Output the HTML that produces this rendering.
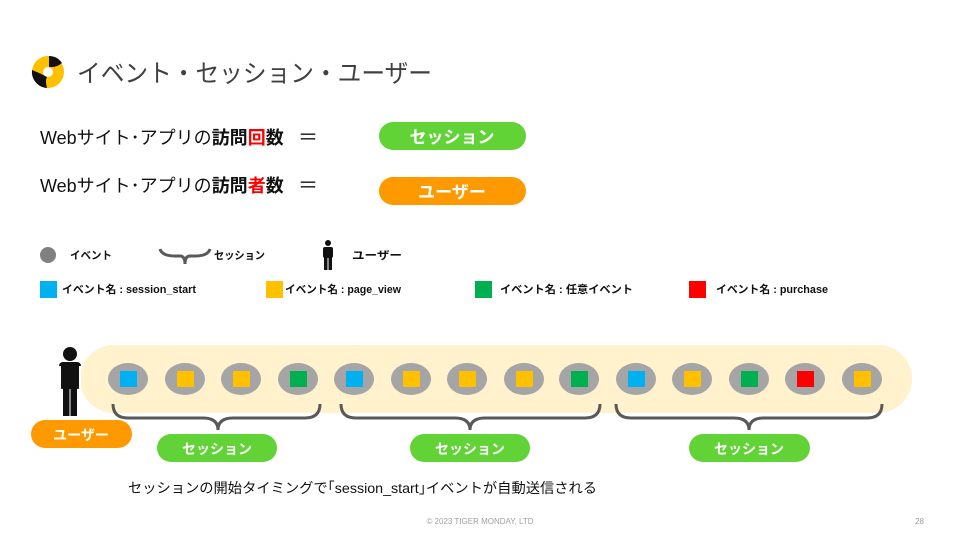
<!DOCTYPE html>
<html><head><meta charset="utf-8"><style>
body{margin:0;width:960px;height:540px;background:#fff;overflow:hidden;font-family:"Liberation Sans","Noto Sans CJK JP",sans-serif;}
</style></head><body>
<svg width="960" height="540" xmlns="http://www.w3.org/2000/svg" style="position:absolute;left:0;top:0;font-family:'Liberation Sans','Noto Sans CJK JP',sans-serif">
<!-- logo -->
<circle cx="48" cy="72" r="16" fill="#ffc000"/>
<path d="M49 56 A16 16 0 0 1 62 63 Q56 68 49 67 Z" fill="#111"/>
<path d="M32 70 A16 16 0 0 0 47 88 Q45 80 47 77 Q40 73 32 70 Z" fill="#111"/>
<circle cx="48" cy="72" r="5" fill="#fff"/>
<text x="77" y="82" font-size="25" fill="#404040" textLength="355" lengthAdjust="spacingAndGlyphs">イベント・セッション・ユーザー</text>

<text x="40" y="144" font-size="18" fill="#111">Webサイト･アプリの<tspan font-weight="bold">訪問</tspan><tspan font-weight="bold" fill="#ff0000">回</tspan><tspan font-weight="bold">数</tspan></text>
<text x="298" y="144" font-size="20" fill="#111">＝</text>
<rect x="379" y="122" width="147" height="28" rx="14" fill="#62d337"/>
<text x="452" y="143" font-size="17" font-weight="bold" fill="#fff" text-anchor="middle">セッション</text>

<text x="40" y="192" font-size="18" fill="#111">Webサイト･アプリの<tspan font-weight="bold">訪問</tspan><tspan font-weight="bold" fill="#ff0000">者</tspan><tspan font-weight="bold">数</tspan></text>
<text x="298" y="192" font-size="20" fill="#111">＝</text>
<rect x="379" y="177" width="147" height="28" rx="14" fill="#ff9900"/>
<text x="452" y="198" font-size="17" font-weight="bold" fill="#fff" text-anchor="middle">ユーザー</text>

<!-- legend -->
<circle cx="48" cy="255" r="8" fill="#808080"/>
<text x="70" y="259" font-size="11" font-weight="bold" fill="#111" textLength="42" lengthAdjust="spacingAndGlyphs">イベント</text>
<path d="M160 249 Q162 256 175 256 L180 256 Q185 256 185 264 Q185 256 190 256 L195 256 Q208 256 210 249" fill="none" stroke="#595959" stroke-width="3"/>
<text x="214" y="259" font-size="11" font-weight="bold" fill="#111" textLength="51" lengthAdjust="spacingAndGlyphs">セッション</text>
<g fill="#111">
<circle cx="328" cy="243" r="3"/>
<rect x="323" y="247" width="10" height="11" rx="2"/>
<rect x="324" y="256" width="3.5" height="14"/><rect x="328.5" y="256" width="3.5" height="14"/>
</g>
<text x="352" y="259" font-size="11" font-weight="bold" fill="#111" textLength="50" lengthAdjust="spacingAndGlyphs">ユーザー</text>

<rect x="40" y="281" width="17" height="17" fill="#00b0f0"/>
<text x="62" y="293" font-size="11" font-weight="bold" fill="#111" textLength="134" lengthAdjust="spacingAndGlyphs">イベント名 : session_start</text>
<rect x="266" y="281" width="17" height="17" fill="#ffc000"/>
<text x="285" y="293" font-size="11" font-weight="bold" fill="#111" textLength="116" lengthAdjust="spacingAndGlyphs">イベント名 : page_view</text>
<rect x="475" y="281" width="17" height="17" fill="#00b050"/>
<text x="500" y="293" font-size="11" font-weight="bold" fill="#111" textLength="133" lengthAdjust="spacingAndGlyphs">イベント名 : 任意イベント</text>
<rect x="689" y="281" width="17" height="17" fill="#ff0000"/>
<text x="716" y="293" font-size="11" font-weight="bold" fill="#111" textLength="112" lengthAdjust="spacingAndGlyphs">イベント名 : purchase</text>

<!-- timeline -->
<rect x="80" y="345" width="832" height="68" rx="34" fill="#fff2cc"/>
<g fill="#a5a5a5">
<ellipse cx="128" cy="379" rx="20" ry="16"/><ellipse cx="185" cy="379" rx="20" ry="16"/><ellipse cx="241" cy="379" rx="20" ry="16"/><ellipse cx="298" cy="379" rx="20" ry="16"/>
<ellipse cx="354" cy="379" rx="20" ry="16"/><ellipse cx="411" cy="379" rx="20" ry="16"/><ellipse cx="467" cy="379" rx="20" ry="16"/><ellipse cx="524" cy="379" rx="20" ry="16"/><ellipse cx="579" cy="379" rx="20" ry="16"/>
<ellipse cx="636" cy="379" rx="20" ry="16"/><ellipse cx="692" cy="379" rx="20" ry="16"/><ellipse cx="749" cy="379" rx="20" ry="16"/><ellipse cx="805" cy="379" rx="20" ry="16"/><ellipse cx="862" cy="379" rx="20" ry="16"/>
</g>
<g>
<rect x="120" y="371" width="17" height="16" fill="#00b0f0"/>
<rect x="177" y="371" width="17" height="16" fill="#ffc000"/>
<rect x="233" y="371" width="17" height="16" fill="#ffc000"/>
<rect x="290" y="371" width="17" height="16" fill="#00b050"/>
<rect x="346" y="371" width="17" height="16" fill="#00b0f0"/>
<rect x="403" y="371" width="17" height="16" fill="#ffc000"/>
<rect x="459" y="371" width="17" height="16" fill="#ffc000"/>
<rect x="516" y="371" width="17" height="16" fill="#ffc000"/>
<rect x="571" y="371" width="17" height="16" fill="#00b050"/>
<rect x="628" y="371" width="17" height="16" fill="#00b0f0"/>
<rect x="684" y="371" width="17" height="16" fill="#ffc000"/>
<rect x="741" y="371" width="17" height="16" fill="#00b050"/>
<rect x="797" y="371" width="17" height="16" fill="#ff0000"/>
<rect x="854" y="371" width="17" height="16" fill="#ffc000"/>
</g>
<g fill="none" stroke="#595959" stroke-width="3">
<path d="M113 404 Q113 418 128 418 L203 418 Q218 418 218 430 Q218 418 233 418 L305 418 Q320 418 320 404"/>
<path d="M341 404 Q341 418 356 418 L455 418 Q470 418 470 430 Q470 418 485 418 L585 418 Q600 418 600 404"/>
<path d="M616 404 Q616 418 631 418 L734 418 Q749 418 749 430 Q749 418 764 418 L867 418 Q882 418 882 404"/>
</g>
<g fill="#111">
<circle cx="70" cy="354" r="7"/>
<rect x="59" y="362" width="22" height="27" rx="4"/>
<rect x="63" y="385" width="6.5" height="31"/><rect x="70.5" y="385" width="6.5" height="31"/>
</g>
<rect x="59" y="366" width="2" height="22" fill="#fff"/><rect x="79" y="366" width="2" height="22" fill="#fff"/>
<rect x="31" y="420" width="101" height="28" rx="14" fill="#ff9900"/>
<text x="81" y="440" font-size="14" font-weight="bold" fill="#fff" text-anchor="middle">ユーザー</text>
<rect x="157" y="434" width="120" height="28" rx="14" fill="#62d337"/>
<text x="217" y="454" font-size="14" font-weight="bold" fill="#fff" text-anchor="middle">セッション</text>
<rect x="410" y="434" width="120" height="28" rx="14" fill="#62d337"/>
<text x="470" y="454" font-size="14" font-weight="bold" fill="#fff" text-anchor="middle">セッション</text>
<rect x="689" y="434" width="121" height="28" rx="14" fill="#62d337"/>
<text x="749" y="454" font-size="14" font-weight="bold" fill="#fff" text-anchor="middle">セッション</text>

<text x="128" y="493" font-size="14" fill="#111" textLength="469" lengthAdjust="spacingAndGlyphs">セッションの開始タイミングで｢session_start｣イベントが自動送信される</text>
<text x="480" y="524" font-size="8" fill="#a0a0a0" text-anchor="middle">© 2023 TIGER MONDAY, LTD</text>
<text x="924" y="524" font-size="8" fill="#a0a0a0" text-anchor="end">28</text>
</svg>
</body></html>
